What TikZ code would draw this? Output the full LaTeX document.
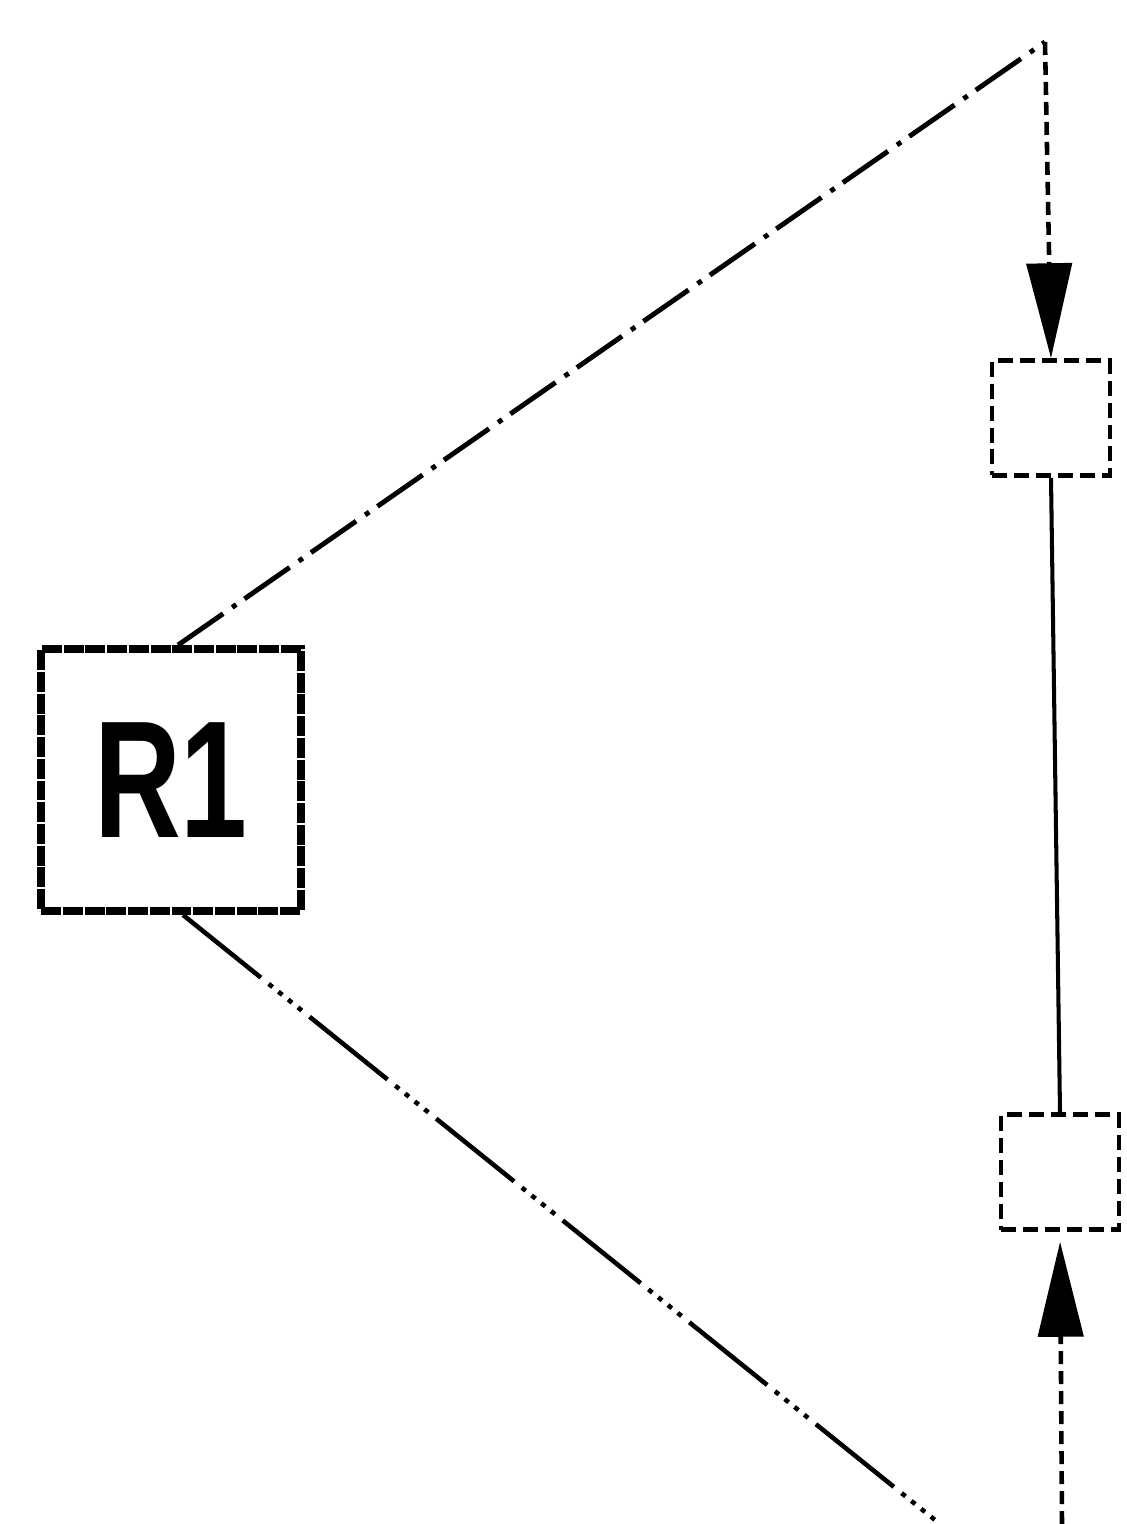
\documentclass[tikz,border=0pt]{standalone}
\usepackage{fontspec}
\setmainfont{Liberation Sans}
\usetikzlibrary{arrows.meta,positioning,calc}

\begin{document}
\begin{tikzpicture}[x=0.02cm, y=-0.02cm,
    routerbox/.style={draw, rectangle, line width=4.5pt, dash pattern=on 0.4cm off 0.035cm,
        minimum width=5.2cm, minimum height=5.24cm, inner sep=0pt},
    portbox/.style={draw, rectangle, line width=2.6pt, dash pattern=on 0.3cm off 0.14cm,
        minimum width=2.36cm, minimum height=2.3cm, inner sep=0pt},
    upperlink/.style={line width=2.8pt, dash pattern=on 1.1cm off 0.22cm on 0.1cm off 0.2cm},
    lowerlink/.style={line width=2.6pt, dash pattern=on 2cm off 0.2cm on 0.1cm off 0.15cm on 0.1cm off 0.15cm on 0.1cm off 0.15cm on 0.1cm off 0.2cm},
    feed/.style={line width=2.6pt, dash pattern=on 0.26cm off 0.14cm, -{Triangle[length=1.9cm, width=0.9cm]}}]
    \useasboundingbox (0,0) rectangle (1126,1524);

    % Router
    \node[routerbox] (r1) at (171,780) {\scalebox{0.72}[1]{\fontsize{95}{100}\selectfont\bfseries R1}};

    % Ports
    \node[portbox] (topport) at (1051,418) {};
    \node[portbox] (botport) at (1060,1172) {};

    % Ends
    \coordinate (apex) at (1045,42);
    \coordinate (foot) at (940,1524);
    \coordinate (source) at (1062,1524);

    % Links
    \draw[upperlink] ($(r1.north)+(7,0)$) -- (apex);
    \draw[lowerlink] ($(r1.south)+(12,0)$) -- (foot);
    \draw[feed] (apex) -- (topport.north);
    \draw[feed, shorten >=0.2cm] (source) -- (botport.south);
    \draw[line width=2.3pt] (topport.south) -- (botport.north);
\end{tikzpicture}
\end{document}
